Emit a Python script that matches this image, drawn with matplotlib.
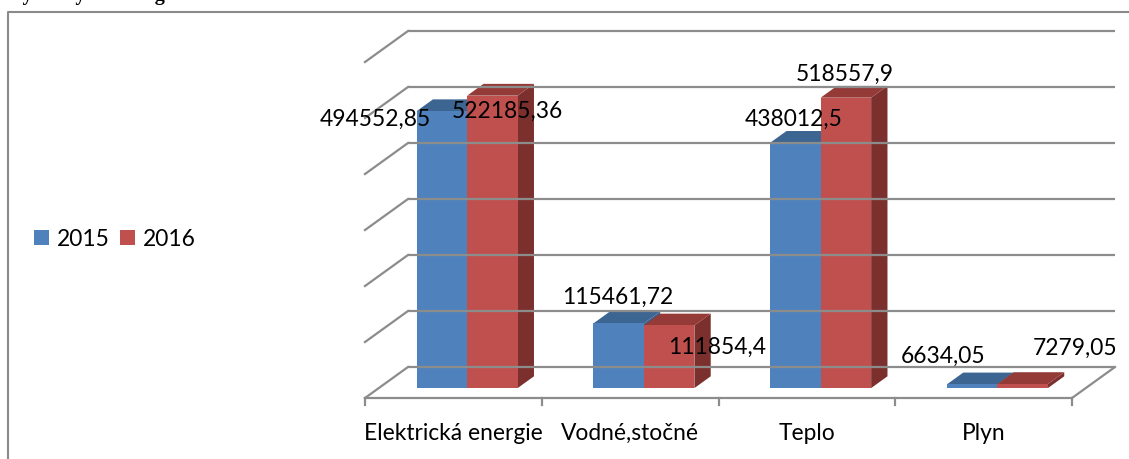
import matplotlib
matplotlib.use("Agg")
import matplotlib.pyplot as plt
from matplotlib.patches import Polygon, Patch
from matplotlib.lines import Line2D

categories = ["Elektrická energie", "Vodné,stočné", "Teplo", "Plyn"]
series_names = ["2015", "2016"]
values_2015 = [494552.85, 115461.72, 438012.5, 6634.05]
values_2016 = [522185.36, 111854.4, 518557.9, 7279.05]
label_2015 = ["494552,85", "115461,72", "438012,5", "6634,05"]
label_2016 = ["522185,36", "111854,4", "518557,9", "7279,05"]
y_ticks = [0, 100000, 200000, 300000, 400000, 500000, 600000]

# label offsets (pixels) from the top-front centre of each bar, as Excel placed them
off_2015 = [(-67, -8), (-1, 26), (-2, 23), (-29, 28)]
off_2016 = [(15, -16), (48, -22), (-1, 23), (52, 36)]

W, H = 1129, 459
FONT = "Lato"
FS = 16.4
GRID = "#8c8c8c"

# pixel geometry of the pseudo 3D plot
x_front_left = 365.0
px_cat = 176.75
y_floor = 398.0
px_unit = 56.0 / 100000
depth_dx, depth_dy = 43.0, 31.0
f0, f1 = 0.32, 0.70
bar_w = 50.5 / px_cat

DX = depth_dx / px_cat
DY = depth_dy / px_unit


def proj(x, v, d):
    return (x + d * DX, v + d * DY)


fig = plt.figure(figsize=(W / 100, H / 100), dpi=100)
ax = fig.add_axes([0, 0, 1, 1])
ax.set_xlim(-0.5 - x_front_left / px_cat, -0.5 + (W - x_front_left) / px_cat)
ax.set_ylim(-(H - y_floor) / px_unit, y_floor / px_unit)
ax.axis("off")

n = len(categories)
# back wall gridlines and left wall diagonals
for t in y_ticks:
    x0, y0 = proj(-0.5, t, 1)
    x1, y1 = proj(n - 0.5, t, 1)
    ax.plot([x0, x1], [y0, y1], color=GRID, lw=1.6, solid_capstyle="butt")
    ax.plot([-0.5, x0], [t, y0], color=GRID, lw=1.6)

# floor front edge, right edge, ticks
ax.plot([-0.5, n - 0.5], [0, 0], color=GRID, lw=1.6)
xr, yr = proj(n - 0.5, 0, 1)
ax.plot([n - 0.5, xr], [0, yr], color=GRID, lw=1.6)
for i in range(n + 1):
    ax.plot([i - 0.5, i - 0.5], [0, -7 / px_unit], color=GRID, lw=1.6)

colors = {
    "2015": ("#4F81BD", "#3D6592", "#385D8A"),
    "2016": ("#C0504D", "#943B38", "#7B302E"),
}


def draw_bar(xa, xb, h, cols):
    front, top, side = cols
    side_pts = [proj(xb, 0, f0), proj(xb, 0, f1), proj(xb, h, f1), proj(xb, h, f0)]
    top_pts = [proj(xa, h, f0), proj(xb, h, f0), proj(xb, h, f1), proj(xa, h, f1)]
    front_pts = [proj(xa, 0, f0), proj(xb, 0, f0), proj(xb, h, f0), proj(xa, h, f0)]
    for pts, c in ((side_pts, side), (top_pts, top), (front_pts, front)):
        ax.add_patch(Polygon(pts, closed=True, facecolor=c, edgecolor="none"))


for i in range(n):
    for k, (vals, labs, offs) in enumerate(
        [(values_2015, label_2015, off_2015), (values_2016, label_2016, off_2016)]
    ):
        xa = i - bar_w + k * bar_w
        xb = xa + bar_w
        draw_bar(xa, xb, vals[i], colors[series_names[k]])
        anchor = proj((xa + xb) / 2, vals[i], f0)
        ax.annotate(labs[i], xy=anchor, xytext=offs[i], textcoords="offset pixels",
                    ha="center", va="center", fontsize=FS, family=FONT, color="black")

for i, c in enumerate(categories):
    ax.annotate(c, xy=(i, 0), xytext=(0, -35), textcoords="offset pixels",
                ha="center", va="center", fontsize=FS, family=FONT, color="black")

handles = [Patch(facecolor=colors[s][0], edgecolor="none") for s in series_names]
fig.legend(handles, series_names, loc="center left", bbox_to_anchor=(34 / W, 1 - 239 / H),
           ncol=2, frameon=False, prop={"family": FONT, "size": FS},
           handlelength=0.66, handleheight=0.66, handletextpad=0.35,
           columnspacing=0.45, borderpad=0, borderaxespad=0)

# outer chart border (cut by the page edges)
fig.add_artist(Line2D([8 / W, 8 / W, 1], [0, 1 - 12 / H, 1 - 12 / H],
                      color="#8a8a8a", lw=1.5, transform=fig.transFigure))

# heading above the chart, cut off by the crop
fig.text(8 / W, 1.0, "Výdavky na energie", ha="left", va="baseline",
         fontsize=14.5, family="Liberation Serif", weight="bold")

fig.savefig("out.png", dpi=100)
